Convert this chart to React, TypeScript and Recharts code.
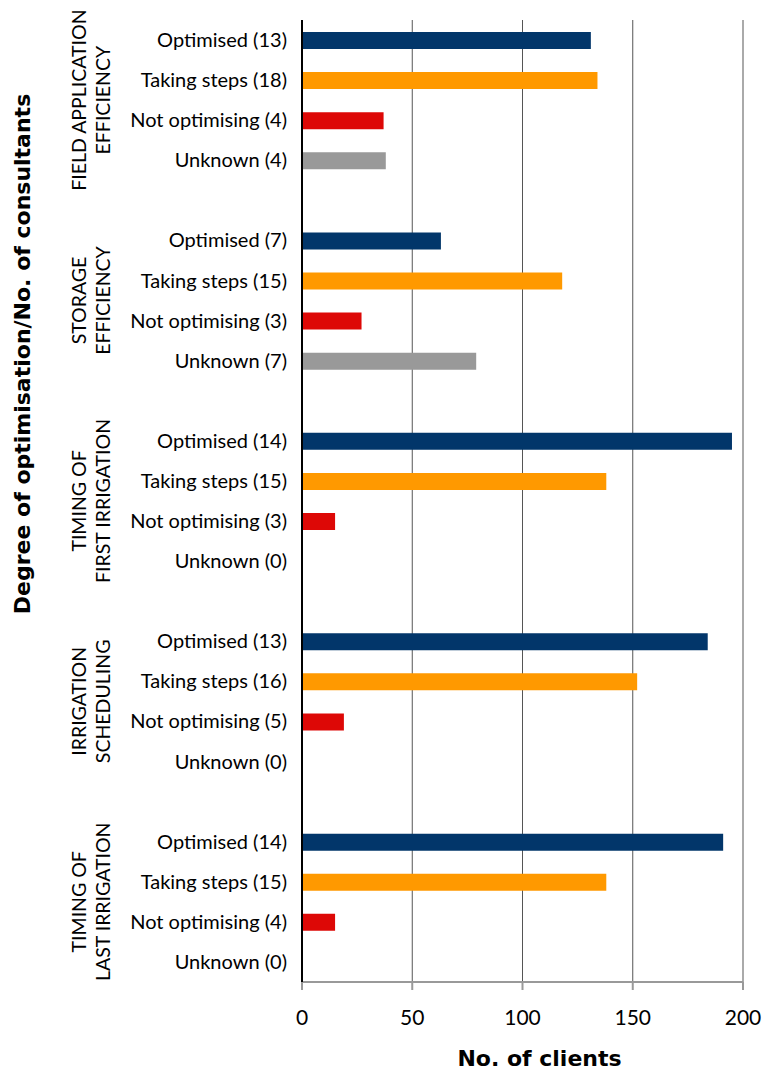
import React from "react";
import {
  BarChart,
  Bar,
  Cell,
  XAxis,
  YAxis,
  CartesianGrid,
  ReferenceLine,
} from "recharts";

const groups = [
  ["FIELD APPLICATION", "EFFICIENCY"],
  ["STORAGE", "EFFICIENCY"],
  ["TIMING OF", "FIRST IRRIGATION"],
  ["IRRIGATION", "SCHEDULING"],
  ["TIMING OF", "LAST IRRIGATION"],
];

const statuses = ["Optimised", "Taking steps", "Not optimising", "Unknown"];

// number of consultants, shown in brackets
const consultants = [
  [13, 18, 4, 4],
  [7, 15, 3, 7],
  [14, 15, 3, 0],
  [13, 16, 5, 0],
  [14, 15, 4, 0],
];

// no. of clients (bar length)
const clients = [
  [131, 134, 37, 38],
  [63, 118, 27, 79],
  [195, 138, 15, 0],
  [184, 152, 19, 0],
  [191, 138, 15, 0],
];

const xTicks = [0, 50, 100, 150, 200];

const colors = ["#02366a", "#ff9900", "#dd0806", "#999999"];

type Row = {
  key: string;
  label: string;
  clients: number | null;
  status: number;
  group: number;
};

const rows: Row[] = [];
groups.forEach((g, gi) => {
  statuses.forEach((s, si) => {
    rows.push({
      key: `g${gi}-${si}`,
      label: `${s} (${consultants[gi][si]})`,
      clients: clients[gi][si],
      status: si,
      group: gi,
    });
  });
  if (gi < groups.length - 1) {
    rows.push({ key: `gap${gi}`, label: "", clients: null, status: -1, group: gi });
  }
});

const byKey: Record<string, Row> = {};
rows.forEach((r) => (byKey[r.key] = r));

function CategoryTick(props: any) {
  const { y, payload } = props;
  const row = byKey[payload.value];
  if (!row || row.status < 0) return null;
  return (
    <g>
      <text
        x={287}
        y={y}
        dy={7}
        textAnchor="end"
        fontSize={20}
        fill="#000"
      >
        {row.label}
      </text>
      {row.status === 1 && (
        <g>
          {groups[row.group].map((line, li) => (
            <text
              key={li}
              x={0}
              y={0}
              transform={`translate(${86 + li * 24}, ${y + 20}) rotate(-90)`}
              textAnchor="middle"
              fontSize={19.5}
              fill="#000"
            >
              {line}
            </text>
          ))}
        </g>
      )}
    </g>
  );
}

export default function App() {
  return (
    <div
      style={{
        position: "absolute",
        left: 0,
        top: 0,
        width: 776,
        height: 1070,
        background: "#fff",
        fontFamily: "Lato, sans-serif",
      }}
    >
      <BarChart
        width={776}
        height={1070}
        data={rows}
        layout="vertical"
        margin={{ top: 20, right: 33, bottom: 0, left: 0 }}
        barCategoryGap={0}
      >
        <CartesianGrid horizontal={false} stroke="#555" />
        <XAxis
          type="number"
          domain={[0, 200]}
          ticks={xTicks}
          interval={0}
          height={88}
          tickSize={8}
          tickMargin={20}
          tick={{ fontSize: 21, fill: "#000" }}
          axisLine={{ stroke: "#999", strokeWidth: 2 }}
          tickLine={{ stroke: "#999", strokeWidth: 2 }}
          label={{
            value: "No. of clients",
            position: "insideBottom",
            offset: 4,
            dx: 17,
            fontSize: 22,
            fontWeight: 700,
            fontFamily: "DejaVu Sans, sans-serif",
            fill: "#000",
          }}
        />
        <XAxis
          xAxisId="top"
          orientation="top"
          type="number"
          domain={[0, 200]}
          height={0}
          tick={false}
          tickLine={false}
          axisLine={{ stroke: "#aaa", strokeWidth: 2 }}
        />
        <YAxis
          type="category"
          dataKey="key"
          width={302}
          interval={0}
          tickLine={false}
          axisLine={{ stroke: "#000", strokeWidth: 2 }}
          tick={<CategoryTick />}
        />
        <ReferenceLine x={200} stroke="#aaa" strokeWidth={2} />
        <Bar dataKey="clients" barSize={17} isAnimationActive={false}>
          {rows.map((r) => (
            <Cell key={r.key} fill={r.status >= 0 ? colors[r.status] : "none"} />
          ))}
        </Bar>
      </BarChart>
      <div
        style={{
          position: "absolute",
          left: 22,
          top: 354,
          transform: "translate(-50%, -50%) rotate(-90deg)",
          whiteSpace: "nowrap",
          fontSize: 22,
          fontWeight: 700,
          fontFamily: "DejaVu Sans, sans-serif",
          color: "#000",
        }}
      >
        Degree of optimisation/No. of consultants
      </div>
    </div>
  );
}
